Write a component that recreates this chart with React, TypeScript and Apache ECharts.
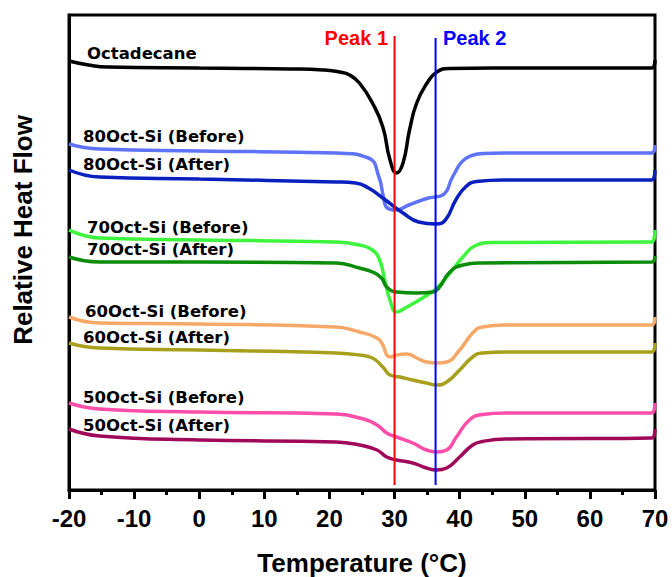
import React, { useEffect, useRef } from "react";
import * as echarts from "echarts";

// Temperature (°C) / relative heat flow (arbitrary units, stacked offsets)
const seriesNames = [
  "Octadecane",
  "80Oct-Si (Before)",
  "80Oct-Si (After)",
  "70Oct-Si (Before)",
  "70Oct-Si (After)",
  "60Oct-Si (Before)",
  "60Oct-Si (After)",
  "50Oct-Si (Before)",
  "50Oct-Si (After)",
];

const octadecane = [
  [-20, 429], [-17, 425], [-14, 423], [0, 422], [14, 421], [19, 420], [21.6, 418],
  [23.1, 415], [24.6, 407], [26.6, 387], [28.2, 363], [29.3, 330], [30.3, 317], [31.3, 327],
  [32.3, 360], [33.4, 387], [35, 407], [36.5, 418], [38.5, 421.5], [45, 422],
  [69.5, 422], [70, 430],
];
const oct80Before = [
  [-20, 346], [-15.3, 341], [0, 339], [21, 337], [26, 332], [27.6, 313], [28.3, 293],
  [28.9, 282], [30.2, 280], [32.2, 285], [35.2, 292], [37.4, 295], [38.9, 313],
  [40.3, 328], [41.5, 333.5], [43.5, 336.5], [47, 337], [69.5, 337], [70, 345],
];
const oct80After = [
  [-20, 320], [-15.3, 313], [0, 311], [21, 308], [24, 307], [26, 302], [28.6, 290],
  [31.3, 277], [33.7, 268], [36.3, 266], [37.8, 270], [39.4, 290], [40.9, 303],
  [42.6, 308.5], [46.6, 310], [69.5, 310], [70, 320],
];
const oct70Before = [
  [-20, 260], [-15.3, 252], [0, 250], [21, 248], [24.6, 245], [26.6, 240], [27.7, 230],
  [28.5, 210], [29.3, 190], [30.3, 178], [31.9, 183], [34.3, 192], [36.5, 202],
  [38.5, 217], [40.5, 233], [42.3, 244], [45, 247.5], [69.5, 248], [70, 260],
];
const oct70After = [
  [-20, 233], [-15.3, 228], [0, 228], [21, 227], [24.6, 222], [26.6, 218], [28, 212],
  [28.8, 203], [30.3, 198], [33.4, 197], [35.9, 198], [36.9, 203], [38.5, 218],
  [40.5, 225], [43.1, 227], [69.5, 228], [70, 234],
];
const oct60Before = [
  [-20, 173], [-15.3, 167], [0, 166], [21, 163], [24.6, 158], [27.3, 152], [28.2, 145],
  [28.8, 135], [29.3, 133], [30.3, 135], [31.9, 136], [33.4, 132], [34.9, 128],
  [36.5, 127], [38, 128], [40, 140], [42, 157], [43.5, 163], [47, 165],
  [69.5, 165], [70, 173],
];
const oct60After = [
  [-20, 147], [-15.3, 142], [0, 140], [21, 137], [24.6, 135], [26.6, 132], [28.2, 123],
  [29.3, 115], [30.8, 113], [32.8, 110], [34.9, 107], [36.5, 105], [38, 108],
  [40, 120], [42, 133], [43.5, 137], [47, 138], [69.5, 138], [70, 147],
];
const oct50Before = [
  [-20, 87], [-15.3, 81], [0, 78], [21, 76], [24.6, 72], [27.3, 65], [28.8, 57],
  [30.3, 53], [32.8, 47], [34.9, 40], [36.5, 38], [38, 40], [39.5, 53], [41.5, 70],
  [43.5, 75.5], [47, 77], [69.5, 77], [70, 87],
];
const oct50After = [
  [-20, 61], [-15.3, 54], [0, 50], [21, 48], [24.6, 45], [27.3, 40], [28.8, 33],
  [30.3, 30], [32.8, 27], [34.9, 22], [36.5, 20], [38, 22], [40, 33], [42, 45],
  [43.5, 48.5], [47, 51], [69.5, 52], [70, 61],
];

const seriesData = [
  octadecane, oct80Before, oct80After, oct70Before, oct70After,
  oct60Before, oct60After, oct50Before, oct50After,
];
const seriesColors = [
  "#000000", "#5F73F8", "#0A20BE", "#3DF53D", "#0B8C0B",
  "#F5A868", "#A8A01C", "#FF4DAA", "#A0085A",
];

const peakNames = ["Peak 1", "Peak 2"];
const peakTemps = [30, 36.3];
const peakColors = ["#FF0000", "#0000FF"];
const peak1Span = [5, 454];
const peak2Span = [5, 452];

const xTicks = { min: -20, max: 70, interval: 10 };

// label positions (pixels)
const labelPos = [
  [87, 53], [83, 136], [83, 164], [87, 227], [87, 249],
  [85, 311], [83, 337], [83, 397], [83, 425],
];

export default function App() {
  const ref = useRef<HTMLDivElement>(null);
  useEffect(() => {
    if (!ref.current) return;
    const chart = echarts.init(ref.current, undefined, { renderer: "svg" });
    const lineSeries: any[] = seriesNames.map((name, i) => ({
      name,
      type: "line",
      data: seriesData[i],
      smooth: 0.5,
      showSymbol: false,
      symbol: "none",
      lineStyle: { color: seriesColors[i], width: 3.5 },
      itemStyle: { color: seriesColors[i] },
      z: 2,
    }));
    const spans = [peak1Span, peak2Span];
    peakNames.forEach((name, i) => {
      lineSeries.push({
        name,
        type: "line",
        data: [
          [peakTemps[i], spans[i][0]],
          [peakTemps[i], spans[i][1]],
        ],
        showSymbol: false,
        symbol: "none",
        lineStyle: { color: peakColors[i], width: 2 },
        z: 5,
      });
    });

    const graphics: any[] = seriesNames.map((name, i) => ({
      type: "text",
      x: labelPos[i][0],
      y: labelPos[i][1],
      style: {
        text: name,
        fill: "#000",
        font: "bold 16.5px 'DejaVu Sans'",
        align: "left",
        verticalAlign: "middle",
      },
    }));
    graphics.push(
      {
        type: "text",
        x: 388,
        y: 38,
        style: {
          text: peakNames[0],
          fill: peakColors[0],
          font: "bold 20px Arial, 'Liberation Sans'",
          align: "right",
          verticalAlign: "middle",
        },
      },
      {
        type: "text",
        x: 443,
        y: 38,
        style: {
          text: peakNames[1],
          fill: peakColors[1],
          font: "bold 20px Arial, 'Liberation Sans'",
          align: "left",
          verticalAlign: "middle",
        },
      },
      {
        type: "text",
        x: 362,
        y: 563,
        style: {
          text: "Temperature (°C)",
          fill: "#000",
          font: "bold 26px Arial, 'Liberation Sans'",
          align: "center",
          verticalAlign: "middle",
        },
      },
      {
        type: "text",
        x: 23,
        y: 230,
        rotation: Math.PI / 2,
        style: {
          text: "Relative Heat Flow",
          fill: "#000",
          font: "bold 26px Arial, 'Liberation Sans'",
          align: "center",
          verticalAlign: "middle",
        },
      }
    );

    chart.setOption({
      animation: false,
      backgroundColor: "#fff",
      grid: {
        left: 69,
        right: 17,
        top: 15,
        bottom: 87,
        show: true,
        borderColor: "#000",
        borderWidth: 3,
      },
      xAxis: {
        type: "value",
        min: xTicks.min,
        max: xTicks.max,
        interval: xTicks.interval,
        axisLine: { show: true, onZero: false, lineStyle: { color: "#000", width: 3 } },
        axisTick: { show: true, inside: false, length: 9, lineStyle: { color: "#000", width: 3 } },
        minorTick: { show: true, splitNumber: 2, length: 5, lineStyle: { color: "#000", width: 3 } },
        splitLine: { show: false },
        axisLabel: {
          color: "#000",
          fontSize: 24,
          fontWeight: "bold",
          fontFamily: "Arial, 'Liberation Sans'",
          margin: 16,
        },
      },
      yAxis: {
        type: "value",
        min: 0,
        max: 475,
        axisLine: { show: true, onZero: false, lineStyle: { color: "#000", width: 3 } },
        axisTick: { show: false },
        axisLabel: { show: false },
        splitLine: { show: false },
      },
      series: lineSeries,
      graphic: graphics,
    });
    return () => chart.dispose();
  }, []);
  return <div ref={ref} style={{ width: 672, height: 577, position: "absolute", left: 0, top: 0 }} />;
}
